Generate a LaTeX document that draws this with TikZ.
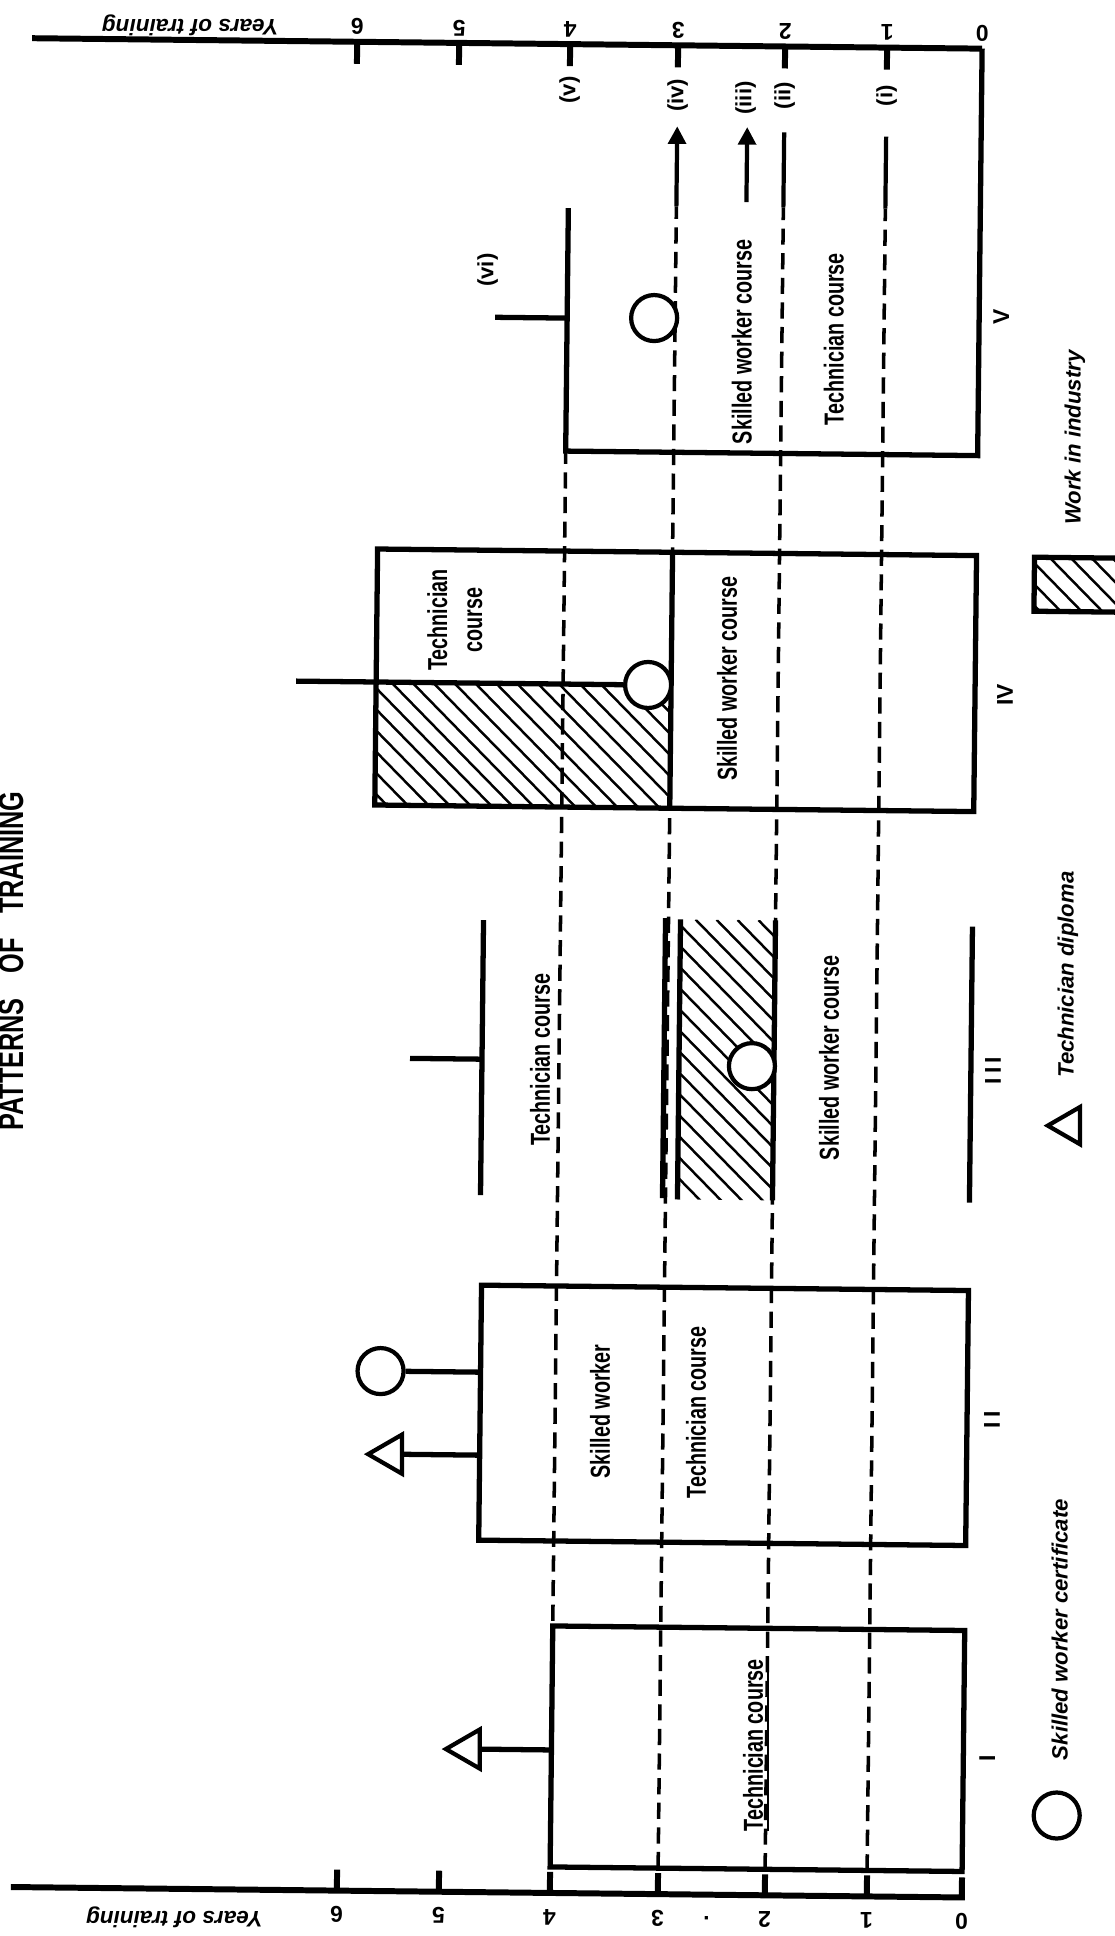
\documentclass[tikz,border=0pt]{standalone}
\usepackage{fontspec}
\setmainfont{Liberation Sans}[FakeStretch=0.72]
\newfontfamily\legendfont{Liberation Sans}
\usetikzlibrary{arrows.meta,shapes.geometric}

% year positions on the scale
\newcommand\yrzero{972}
\newcommand\yrone{877}
\newcommand\yrtwo{775}
\newcommand\yrthree{668}
\newcommand\yrfour{560}
\newcommand\yrfive{449}
\newcommand\yrsix{347}

% hatched rectangle (#1,#2) -- (#3,#4)
\newcommand\hatchbox[4]{%
  \begin{scope}
    \clip (#1,#2) rectangle (#3,#4);
    \foreach \hd in {-300,-279,...,320}
      \draw[hatchline] ({#1+\hd},#2) -- ++(400,400);
  \end{scope}}

\tikzset{
  boxline/.style={line width=1.5pt},
  axisline/.style={line width=1.7pt},
  routeline/.style={line width=1.2pt},
  yearline/.style={line width=1pt, dash pattern=on 4.6pt off 2.4pt},
  hatchline/.style={line width=0.7pt},
  course/.style={rotate=90, inner sep=0pt, align=center,
    font=\bfseries\fontsize{7.8}{10}\selectfont},
  numeral/.style={rotate=90, inner sep=0pt,
    font=\legendfont\bfseries\fontsize{6.5}{8}\selectfont},
  pathlabel/.style={rotate=90, inner sep=0pt,
    font=\legendfont\bfseries\fontsize{6.3}{8}\selectfont},
  scalelabel/.style={rotate=180, inner sep=0pt,
    font=\legendfont\bfseries\fontsize{6.5}{8}\selectfont},
  legendtext/.style={rotate=90, inner sep=0pt,
    font=\legendfont\bfseries\itshape\fontsize{6.3}{8}\selectfont},
  certificate/.style={circle, draw, line width=1.2pt, fill=white,
    minimum size=0.46cm, inner sep=0pt},
  diploma/.style={regular polygon, regular polygon sides=3,
    shape border rotate=90, draw, line width=1.2pt, fill=white,
    minimum size=0.45cm, inner sep=0pt},
}

\begin{document}
\begin{tikzpicture}[x=0.01cm, y=-0.01cm]
\useasboundingbox (0,0) rectangle (1115,1936);
\begin{scope}[rotate around={-0.63:(558,968)}]

% title
\node[rotate=90, anchor=base, inner sep=0pt,
  font=\bfseries\fontsize{10}{12}\selectfont] (title) at (23,967)
  {PATTERNS\hspace{7pt}OF\hspace{7pt}TRAINING};

% year scales, top and bottom
\draw[axisline] (22,44) -- (\yrzero,44);
\draw[axisline] (21,1893) -- (\yrzero,1893) -- (\yrzero,1873);
\foreach \yr/\lab in {\yrone/1,\yrtwo/2,\yrthree/3,\yrfour/4,\yrfive/5,\yrsix/6} {
  \draw[axisline] (\yr,44) -- (\yr,66);
  \draw[axisline] (\yr,1893) -- (\yr,1872);
  \node[scalelabel] at (\yr,29) {\lab};
  \node[scalelabel] at (\yr,1917) {\lab};
}
\node[scalelabel] (topzero) at (\yrzero,29) {0};
\node[scalelabel] (botzero) at (\yrzero,1917) {0};
\node[scalelabel] (botdot) at (717,1917) {.};
\node[scalelabel, font=\legendfont\bfseries\itshape\fontsize{6.4}{8}\selectfont]
  (topname) at (180,29) {Years of training};
\node[scalelabel, font=\legendfont\bfseries\itshape\fontsize{6.4}{8}\selectfont]
  (botname) at (185,1921) {Years of training};

% dashed year lines
\foreach \yr in {\yrone,\yrtwo,\yrthree}
  \draw[yearline] (\yr,1867) -- (\yr,205);
\draw[yearline] (\yrfour,1867) -- (\yrfour,451);

% work in industry
\hatchbox{373}{684}{\yrthree}{807}
\hatchbox{680}{918}{\yrtwo}{1198}
\hatchbox{1030}{552}{1130}{606}

% I
\draw[boxline] (\yrfour,1626) rectangle (\yrzero,1867);
\node[diploma] (dipI) at (477,1750) {};
\draw[boxline] (dipI) -- (\yrfour,1750);
\node[course] (techI) at (765,1743) {\underline{Technician course}};
\node[numeral] (labI) at (996,1754) {I};

% II
\draw[boxline] (485,1286) rectangle (\yrzero,1541);
\node[certificate] (certII) at (385,1373) {};
\draw[boxline] (certII) -- (485,1373);
\node[diploma] (dipII) at (396,1456) {};
\draw[boxline] (dipII) -- (485,1456);
\node[course] (skillII) at (605,1411) {Skilled worker};
\node[course] (techII) at (701,1411) {Technician course};
\node[numeral] (labII) at (997,1415) {I\kern1.2pt I};

% III
\draw[boxline] (483,921) -- (483,1196);
\draw[boxline] (411,1060) -- (483,1060);
\draw[boxline] (665,917) -- (665,1197);
\draw[boxline] (680,918) -- (680,1198);
\draw[boxline] (\yrtwo,918) -- (\yrtwo,1198);
\draw[boxline] (\yrzero,922) -- (\yrzero,1198);
\node[certificate] (certIII) at (753,1064) {};
\node[course] (techIII) at (541,1060) {Technician course};
\node[course] (skillIII) at (830,1055) {Skilled worker course};
\node[numeral] (labIII) at (994,1066) {I\kern1.2pt I\kern1.2pt I};

% IV
\draw[boxline] (373,551) rectangle (\yrzero,807);
\draw[boxline] (\yrthree,551) -- (\yrthree,807);
\node[certificate] (certIV) at (645,684) {};
\draw[boxline] (293,684) -- (certIV);
\node[course] (techIV) at (451,621) {Technician\\course};
\node[course] (skillIV) at (724,677) {Skilled worker course};
\node[numeral] (labIV) at (1002,690) {IV};

% V
\draw[boxline] (\yrzero,44) -- (\yrzero,451) -- (\yrfour,451) -- (\yrfour,208);
\draw[boxline] (488,318) -- (\yrfour,318);
\node[certificate] (certV) at (647,317) {};
\node[course] (skillV) at (735,340) {Skilled worker course};
\node[course] (techV) at (827,336) {Technician course};
\node[numeral] (labV) at (994,312) {V};

% routes (i)-(vi)
\draw[routeline, -{Triangle[width=5pt,length=5pt]}] (\yrthree,205) -- (\yrthree,125);
\draw[routeline, -{Triangle[width=5pt,length=5pt]}] (738,200) -- (738,125);
\draw[routeline] (\yrtwo,205) -- (\yrtwo,130);
\draw[routeline] (\yrone,205) -- (\yrone,133);
\node[pathlabel] (rvi) at (480,271) {(vi)};
\node[pathlabel] (rv) at (\yrfour,90) {(v)};
\node[pathlabel] (riv) at (\yrthree,94) {(iv)};
\node[pathlabel] (riii) at (736,96) {(iii)};
\node[pathlabel] (rii) at (\yrtwo,93) {(ii)};
\node[pathlabel] (ri) at (\yrone,92) {(i)};

% legend
\node[certificate] (keycert) at (1066,1810) {};
\node[legendtext] (keycerttext) at (1067,1624) {Skilled worker certificate};
\node[diploma, minimum size=0.43cm] (keydip) at (1071,1120) {};
\node[legendtext] (keydiptext) at (1068,969) {Technician diploma};
\draw[boxline] (1030,552) rectangle (1130,606);
\node[legendtext] (keyworktext) at (1069,432) {Work in industry};

\end{scope}
\end{tikzpicture}
\end{document}
